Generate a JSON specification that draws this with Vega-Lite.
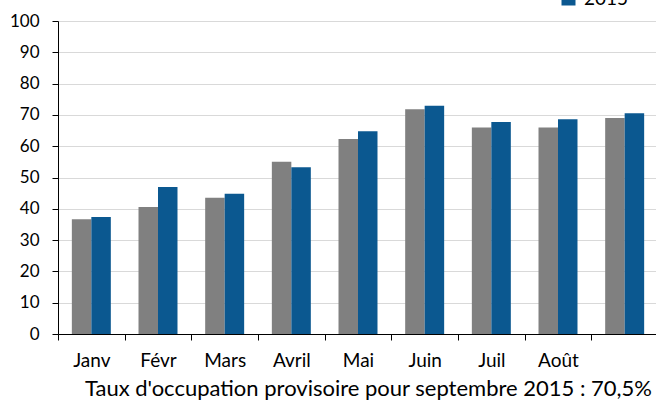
{
  "$schema": "https://vega.github.io/schema/vega-lite/v6.json",
  "width": 600,
  "height": 313,
  "autosize": {"type": "none"},
  "padding": {"left": 58, "top": 21, "right": 0, "bottom": 67},
  "background": "white",
  "config": {
    "font": "Lato",
    "view": {"stroke": null},
    "axis": {"labelFont": "Lato", "titleFont": "Lato", "labelColor": "#000000", "titleColor": "#000000"}
  },
  "data": {
    "values": [
      {"mois": "Janv", "annee": "2014", "taux": 36.7},
      {"mois": "Janv", "annee": "2015", "taux": 37.4},
      {"mois": "Févr", "annee": "2014", "taux": 40.6},
      {"mois": "Févr", "annee": "2015", "taux": 47.0},
      {"mois": "Mars", "annee": "2014", "taux": 43.5},
      {"mois": "Mars", "annee": "2015", "taux": 44.8},
      {"mois": "Avril", "annee": "2014", "taux": 55.0},
      {"mois": "Avril", "annee": "2015", "taux": 53.3},
      {"mois": "Mai", "annee": "2014", "taux": 62.3},
      {"mois": "Mai", "annee": "2015", "taux": 64.8},
      {"mois": "Juin", "annee": "2014", "taux": 71.8},
      {"mois": "Juin", "annee": "2015", "taux": 72.9},
      {"mois": "Juil", "annee": "2014", "taux": 66.0},
      {"mois": "Juil", "annee": "2015", "taux": 67.7},
      {"mois": "Août", "annee": "2014", "taux": 66.0},
      {"mois": "Août", "annee": "2015", "taux": 68.6},
      {"mois": "Sept", "annee": "2014", "taux": 69.0},
      {"mois": "Sept", "annee": "2015", "taux": 70.5}
    ]
  },
  "mark": {"type": "bar"},
  "encoding": {
    "x": {
      "field": "mois",
      "type": "nominal",
      "sort": null,
      "scale": {"paddingInner": 0, "paddingOuter": 0},
      "axis": {
        "title": "Taux d'occupation provisoire pour septembre 2015 : 70,5%",
        "titleFontSize": 22,
        "titleFontWeight": "normal",
        "titlePadding": 8,
        "titleX": 310,
        "labelAngle": 0,
        "labelFontSize": 19,
        "labelPadding": 11,
        "labelExpr": "datum.value == 'Sept' ? '' : datum.value",
        "tickBand": "extent",
        "tickSize": 6,
        "tickColor": "#000000",
        "domainColor": "#000000",
        "grid": false
      }
    },
    "xOffset": {
      "field": "annee",
      "type": "nominal",
      "scale": {"paddingInner": 0, "paddingOuter": 0.71}
    },
    "y": {
      "field": "taux",
      "type": "quantitative",
      "scale": {"domain": [0, 100], "nice": false},
      "axis": {
        "title": null,
        "values": [0, 10, 20, 30, 40, 50, 60, 70, 80, 90, 100],
        "labelFontSize": 17,
        "labelPadding": 13,
        "tickSize": 6,
        "tickColor": "#000000",
        "domainColor": "#000000",
        "gridColor": "#d9d9d9",
        "gridWidth": 1.2
      }
    },
    "color": {
      "field": "annee",
      "type": "nominal",
      "scale": {"domain": ["2014", "2015"], "range": ["#808080", "#0b5890"]},
      "legend": {
        "title": null,
        "orient": "none",
        "direction": "vertical",
        "legendX": 501,
        "legendY": -56,
        "symbolType": "square",
        "symbolSize": 196,
        "symbolStrokeWidth": 0,
        "labelFontSize": 19,
        "labelOffset": 6,
        "labelColor": "#000000",
        "rowPadding": 4
      }
    }
  }
}
